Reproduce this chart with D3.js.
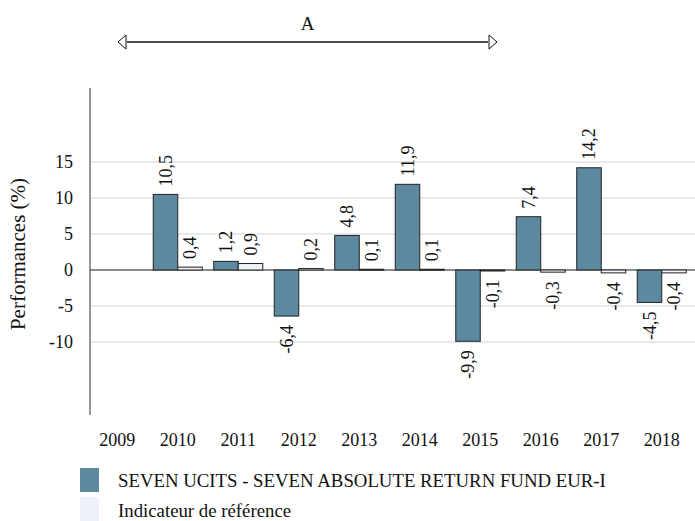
<!DOCTYPE html>
<html>
<head>
<meta charset="utf-8">
<script src="https://cdn.jsdelivr.net/npm/d3@7"></script>
<style>
  body { margin: 0; background: #fff; }
  svg text { font-family: "Liberation Serif", "Times New Roman", serif; fill: #111; }
</style>
</head>
<body>
<svg id="chart" width="695" height="521"></svg>
<script>
const years = ["2009", "2010", "2011", "2012", "2013", "2014", "2015", "2016", "2017", "2018"]
const fundValues = [null, 10.5, 1.2, -6.4, 4.8, 11.9, -9.9, 7.4, 14.2, -4.5]
const refValues = [null, 0.4, 0.9, 0.2, 0.1, 0.1, -0.1, -0.3, -0.4, -0.4]
const yTicks = [-10, -5, 0, 5, 10, 15]
const seriesNames = ["SEVEN UCITS - SEVEN ABSOLUTE RETURN FUND EUR-I", "Indicateur de référence"]
const periodLabel = "A"
const periodYears = ["2009", "2015"]

const fundColor = "#5d89a0",
    refColor = "#edf1fa"

const svg = d3.select('#chart')
const margin = {left: 90, right: 0, top: 90, bottom: 107}
const width = 695 - margin.left - margin.right,
    height = 521 - margin.top - margin.bottom

const x = d3.scaleBand().domain(years).range([margin.left, margin.left + width])
const y = d3.scaleLinear().domain([-20, 25]).range([margin.top + height, margin.top])

// gridlines
svg.append('g')
    .selectAll('line')
    .data(yTicks)
    .join('line')
    .attr('x1', margin.left)
    .attr('x2', 695)
    .attr('y1', d => y(d))
    .attr('y2', d => y(d))
    .attr('stroke', d => d === 0 ? '#666' : '#d4d4d4')
    .attr('stroke-width', d => d === 0 ? 1.5 : 1)

// y tick labels
svg.append('g')
    .selectAll('text')
    .data(yTicks)
    .join('text')
    .attr('x', 73)
    .attr('y', d => y(d))
    .attr('dy', '0.35em')
    .attr('text-anchor', 'end')
    .attr('font-size', 18)
    .text(d => d)

// y axis line
svg.append('line')
    .attr('x1', margin.left).attr('x2', margin.left)
    .attr('y1', y(25) - 2).attr('y2', y(-20) + 1)
    .attr('stroke', '#333')

svg.append('text')
    .attr('transform', `translate(25,${(y(25) + y(-20)) / 2 + 2}) rotate(-90)`)
    .attr('text-anchor', 'middle')
    .attr('font-size', 21)
    .text('Performances (%)')

// x labels
svg.append('g')
    .selectAll('text')
    .data(years)
    .join('text')
    .attr('x', d => x(d) + x.bandwidth() / 2 - 3)
    .attr('y', 446)
    .attr('text-anchor', 'middle')
    .attr('font-size', 18)
    .text(d => d)

const barW = 24.5
const rows = years.map((yr, i) => ({year: yr, fund: fundValues[i], ref: refValues[i]}))
const series = [
    {key: 'fund', color: fundColor, off: -barW},
    {key: 'ref', color: refColor, off: 0}
]

series.forEach(s => {
    const data = rows.filter(d => d[s.key] !== null)
    const cx = d => x(d.year) + x.bandwidth() / 2 - 3 + s.off
    svg.append('g')
        .selectAll('rect')
        .data(data)
        .join('rect')
        .attr('x', cx)
        .attr('width', barW)
        .attr('y', d => y(Math.max(0, d[s.key])))
        .attr('height', d => Math.max(1, Math.abs(y(d[s.key]) - y(0))))
        .attr('fill', s.color)
        .attr('stroke', '#222')
        .attr('stroke-width', 1)

    svg.append('g')
        .selectAll('text')
        .data(data)
        .join('text')
        .attr('transform', d => {
            const v = d[s.key]
            const ty = v >= 0 ? y(v) - 8 : y(v) + 9
            return `translate(${cx(d) + barW / 2},${ty}) rotate(-90)`
        })
        .attr('text-anchor', d => d[s.key] >= 0 ? 'start' : 'end')
        .attr('dy', '0.35em')
        .attr('font-size', 18)
        .text(d => d3.format('.1f')(d[s.key]).replace('.', ',').replace('−', '-'))
})

// period arrow
const ax1 = x(periodYears[0]) + 28,
    ax2 = x(periodYears[1]) + 44,
    ay = 42
svg.append('line')
    .attr('x1', ax1 + 9).attr('x2', ax2 - 9)
    .attr('y1', ay).attr('y2', ay)
    .attr('stroke', '#111').attr('stroke-width', 1.3)
svg.append('path')
    .attr('d', `M${ax1},${ay} L${ax1 + 8},${ay - 7} L${ax1 + 8},${ay + 7} Z`)
    .attr('fill', '#fff').attr('stroke', '#111')
svg.append('path')
    .attr('d', `M${ax2},${ay} L${ax2 - 8},${ay - 7} L${ax2 - 8},${ay + 7} Z`)
    .attr('fill', '#fff').attr('stroke', '#111')
svg.append('text')
    .attr('x', (ax1 + ax2) / 2)
    .attr('y', 30)
    .attr('text-anchor', 'middle')
    .attr('font-size', 19)
    .text(periodLabel)

// legend
const legend = svg.append('g')
legend.selectAll('rect')
    .data(seriesNames)
    .join('rect')
    .attr('x', 80)
    .attr('y', (d, i) => 468 + i * 29)
    .attr('width', 19)
    .attr('height', 24)
    .attr('fill', (d, i) => i === 0 ? fundColor : refColor)
legend.selectAll('text')
    .data(seriesNames)
    .join('text')
    .attr('x', 118)
    .attr('y', (d, i) => 480 + i * 30)
    .attr('dy', '0.35em')
    .attr('font-size', 18.8)
    .text(d => d)
</script>
</body>
</html>
